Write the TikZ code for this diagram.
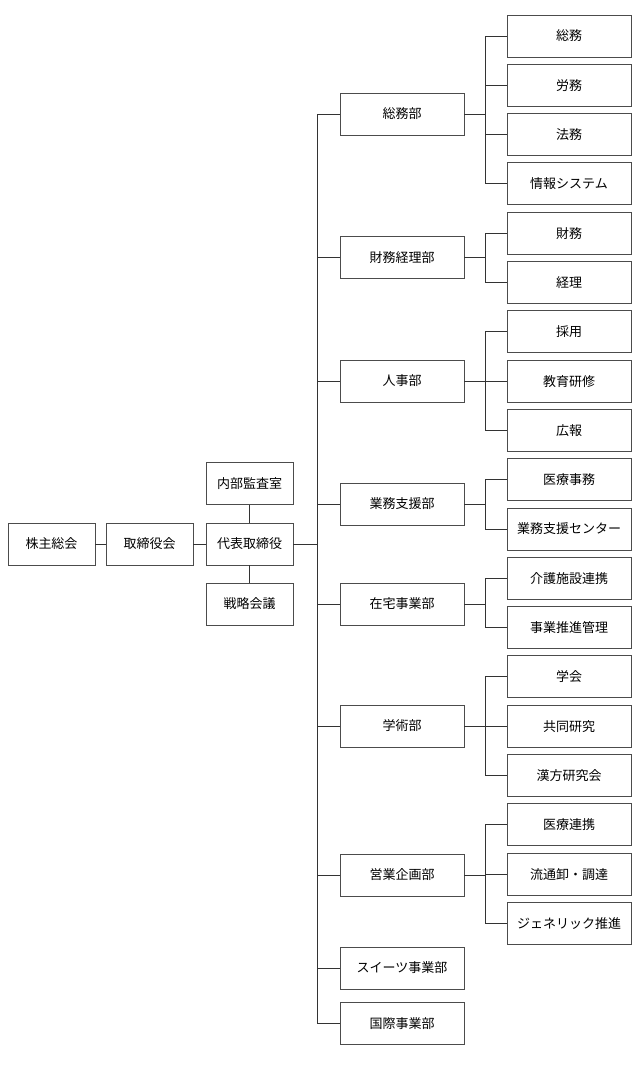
\documentclass[tikz,border=0pt]{standalone}
\usepackage{fontspec}
\setmainfont{Noto Sans CJK JP}
\usetikzlibrary{positioning}

\begin{document}
\begin{tikzpicture}[
		x=1pt, y=-1pt,
		orgbox/.style={
			draw=black!70,
			line width=0.9pt,
			minimum height=42pt,
			inner sep=2pt,
			align=center,
			font=\fontsize{13}{15}\selectfont,
		},
		topbox/.style={orgbox, minimum width=87pt},
		deptbox/.style={orgbox, minimum width=124pt},
		subbox/.style={orgbox, minimum width=124pt},
		orgline/.style={
			draw=black!80,
			line width=0.9pt,
		}
	]
		\useasboundingbox (0,0) rectangle (638,1088);

		% Direction
		\node[topbox] (kabunushi) at (51.5,544) {株主総会};
		\node[topbox] (torishimariyakukai) at (149.5,544) {取締役会};
		\node[topbox] (daihyo) at (249.5,544) {代表取締役};
		\node[topbox] (kansa) at (249.5,483.5) {内部監査室};
		\node[topbox] (senryaku) at (249.5,604) {戦略会議};

		% Départements
		\node[deptbox] (soumubu) at (402,114) {総務部};
		\node[deptbox] (zaimubu) at (402,257.5) {財務経理部};
		\node[deptbox] (jinjibu) at (402,381) {人事部};
		\node[deptbox] (gyoumubu) at (402,504) {業務支援部};
		\node[deptbox] (zaitakubu) at (402,604) {在宅事業部};
		\node[deptbox] (gakujutsubu) at (402,726) {学術部};
		\node[deptbox] (eigyoubu) at (402,875) {営業企画部};
		\node[deptbox] (sweetsbu) at (402,968) {スイーツ事業部};
		\node[deptbox] (kokusaibu) at (402,1023.5) {国際事業部};

		% Sections
		\node[subbox] (soumu) at (569,36) {総務};
		\node[subbox] (roumu) at (569,85.3) {労務};
		\node[subbox] (houmu) at (569,134.6) {法務};
		\node[subbox] (jouhou) at (569,183.9) {情報システム};
		\node[subbox] (zaimu) at (569,233.2) {財務};
		\node[subbox] (keiri) at (569,282.5) {経理};
		\node[subbox] (saiyou) at (569,331.8) {採用};
		\node[subbox] (kyouiku) at (569,381.1) {教育研修};
		\node[subbox] (kouhou) at (569,430.4) {広報};
		\node[subbox] (iryoujimu) at (569,479.7) {医療事務};
		\node[subbox] (center) at (569,529) {業務支援センター};
		\node[subbox] (kaigo) at (569,578.3) {介護施設連携};
		\node[subbox] (suishin) at (569,627.6) {事業推進管理};
		\node[subbox] (gakkai) at (569,676.9) {学会};
		\node[subbox] (kyoudou) at (569,726.2) {共同研究};
		\node[subbox] (kanpou) at (569,775.5) {漢方研究会};
		\node[subbox] (iryourenkei) at (569,824.8) {医療連携};
		\node[subbox] (ryuutsuu) at (569,874.1) {流通卸・調達};
		\node[subbox] (generic) at (569,923.4) {ジェネリック推進};

		% Points de jonction
		\coordinate (trunk) at (317,544);
		\coordinate (b1) at (485,114);
		\coordinate (b2) at (485,257.5);
		\coordinate (b3) at (485,381);
		\coordinate (b4) at (485,504);
		\coordinate (b5) at (485,604);
		\coordinate (b6) at (485,726);
		\coordinate (b7) at (485,875);

		% Connexions (direction)
		\draw[orgline] (kabunushi) -- (torishimariyakukai);
		\draw[orgline] (torishimariyakukai) -- (daihyo);
		\draw[orgline] (daihyo) -- (kansa);
		\draw[orgline] (daihyo) -- (senryaku);
		\draw[orgline] (daihyo) -- (trunk);

		% Tronc vers les départements
		\draw[orgline] (soumubu.west -| trunk) -- (kokusaibu.west -| trunk);
		\draw[orgline] (soumubu.west -| trunk) -- (soumubu.west);
		\draw[orgline] (zaimubu.west -| trunk) -- (zaimubu.west);
		\draw[orgline] (jinjibu.west -| trunk) -- (jinjibu.west);
		\draw[orgline] (gyoumubu.west -| trunk) -- (gyoumubu.west);
		\draw[orgline] (zaitakubu.west -| trunk) -- (zaitakubu.west);
		\draw[orgline] (gakujutsubu.west -| trunk) -- (gakujutsubu.west);
		\draw[orgline] (eigyoubu.west -| trunk) -- (eigyoubu.west);
		\draw[orgline] (sweetsbu.west -| trunk) -- (sweetsbu.west);
		\draw[orgline] (kokusaibu.west -| trunk) -- (kokusaibu.west);

		% Départements vers sections
		\draw[orgline] (soumubu) -- (b1);
		\draw[orgline] (b1) |- (soumu.west);
		\draw[orgline] (b1) |- (roumu.west);
		\draw[orgline] (b1) |- (houmu.west);
		\draw[orgline] (b1) |- (jouhou.west);

		\draw[orgline] (zaimubu) -- (b2);
		\draw[orgline] (b2) |- (zaimu.west);
		\draw[orgline] (b2) |- (keiri.west);

		\draw[orgline] (jinjibu) -- (b3);
		\draw[orgline] (b3) |- (saiyou.west);
		\draw[orgline] (b3) |- (kyouiku.west);
		\draw[orgline] (b3) |- (kouhou.west);

		\draw[orgline] (gyoumubu) -- (b4);
		\draw[orgline] (b4) |- (iryoujimu.west);
		\draw[orgline] (b4) |- (center.west);

		\draw[orgline] (zaitakubu) -- (b5);
		\draw[orgline] (b5) |- (kaigo.west);
		\draw[orgline] (b5) |- (suishin.west);

		\draw[orgline] (gakujutsubu) -- (b6);
		\draw[orgline] (b6) |- (gakkai.west);
		\draw[orgline] (b6) |- (kyoudou.west);
		\draw[orgline] (b6) |- (kanpou.west);

		\draw[orgline] (eigyoubu) -- (b7);
		\draw[orgline] (b7) |- (iryourenkei.west);
		\draw[orgline] (b7) |- (ryuutsuu.west);
		\draw[orgline] (b7) |- (generic.west);

	\end{tikzpicture}
\end{document}
